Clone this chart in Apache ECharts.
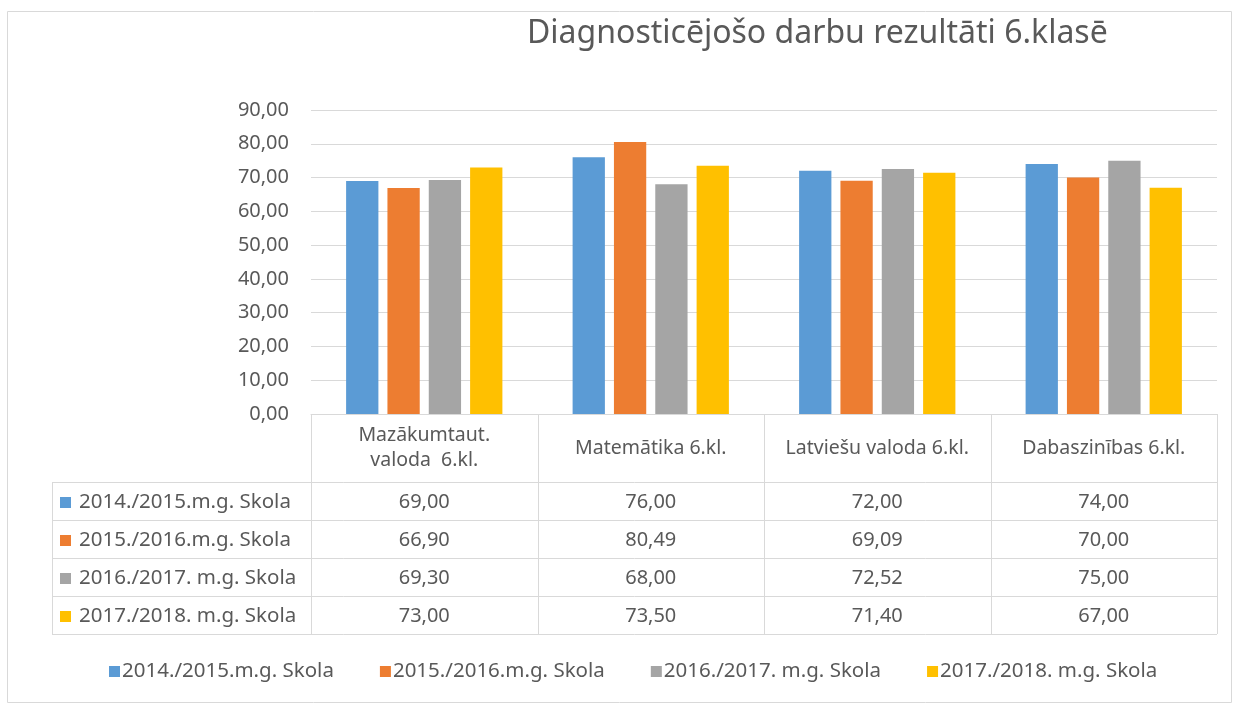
<!DOCTYPE html>
<html>
<head>
<meta charset="utf-8">
<script src="https://cdn.jsdelivr.net/npm/echarts@6/dist/echarts.min.js"></script>
<style>
  html, body { margin: 0; padding: 0; background: #fff; }
  #chart { width: 1234px; height: 704px; }
</style>
</head>
<body>
<div id="chart"></div>
<script>
var categories = ['Mazākumtaut.\nvaloda  6.kl.', 'Matemātika 6.kl.', 'Latviešu valoda 6.kl.', 'Dabaszinības 6.kl.'];
var seriesNames = ['2014./2015.m.g. Skola', '2015./2016.m.g. Skola', '2016./2017. m.g. Skola', '2017./2018. m.g. Skola'];
var s2014 = [69.00, 76.00, 72.00, 74.00];
var s2015 = [66.90, 80.49, 69.09, 70.00];
var s2016 = [69.30, 68.00, 72.52, 75.00];
var s2017 = [73.00, 73.50, 71.40, 67.00];
var yTicks = [0, 10, 20, 30, 40, 50, 60, 70, 80, 90];
var colors = ['#5b9bd5', '#ed7d31', '#a5a5a5', '#ffc000'];

var allValues = [s2014, s2015, s2016, s2017];
var textColor = '#595959';
var lineColor = '#d9d9d9';
var font = 'Noto Sans';

// layout
var W = 1234, H = 704;
var gLeft = 311, gRight = 1217, gTop = 110, gBottom = 414;
var tableLeft = 52;
var headerBottom = 482;
var rowH = 38;

function fmt(v) { return v.toFixed(2).replace('.', ','); }

var chart = echarts.init(document.getElementById('chart'));

var graphics = [];
// outer frame
graphics.push({
  type: 'rect', shape: { x: 7.5, y: 11.5, width: 1224, height: 691 },
  style: { fill: null, stroke: lineColor, lineWidth: 1 }, silent: true
});
// title
graphics.push({
  type: 'text', left: 527, top: 18,
  style: { text: 'Diagnosticējošo darbu rezultāti 6.klasē', fill: textColor, font: '32px "' + font + '"' }
});

var colW = (gRight - gLeft) / categories.length;
var tableBottom = headerBottom + rowH * seriesNames.length;
// verticals in category columns
for (var i = 0; i <= categories.length; i++) {
  var x = Math.round(gLeft + i * colW) + 0.5;
  graphics.push({
    type: 'line', shape: { x1: x, y1: gBottom, x2: x, y2: tableBottom },
    style: { stroke: lineColor, lineWidth: 1 }, silent: true
  });
}
graphics.push({
  type: 'line', shape: { x1: tableLeft + 0.5, y1: headerBottom, x2: tableLeft + 0.5, y2: tableBottom },
  style: { stroke: lineColor, lineWidth: 1 }, silent: true
});
// horizontals
for (var r = 0; r <= seriesNames.length; r++) {
  var y = headerBottom + r * rowH + 0.5;
  graphics.push({
    type: 'line', shape: { x1: tableLeft, y1: y, x2: gRight, y2: y },
    style: { stroke: lineColor, lineWidth: 1 }, silent: true
  });
}
// row labels and values
for (var r = 0; r < seriesNames.length; r++) {
  var cy = headerBottom + r * rowH + rowH / 2 + 1;
  graphics.push({
    type: 'rect', shape: { x: 60, y: cy - 5, width: 11, height: 11 },
    style: { fill: colors[r] }, silent: true
  });
  graphics.push({
    type: 'text', x: 79, y: cy,
    style: { text: seriesNames[r], fill: textColor, font: '20.5px "' + font + '"', verticalAlign: 'middle', align: 'left' }
  });
  for (var c = 0; c < categories.length; c++) {
    graphics.push({
      type: 'text', x: gLeft + c * colW + colW / 2, y: cy,
      style: { text: fmt(allValues[r][c]), fill: textColor, font: '20px "' + font + '"', verticalAlign: 'middle', align: 'center' }
    });
  }
}

var series = seriesNames.map(function (name, i) {
  return {
    name: name,
    type: 'bar',
    data: allValues[i],
    itemStyle: { color: colors[i] },
    barGap: '28%',
    barCategoryGap: '31%'
  };
});

var option = {
  animation: false,
  textStyle: { fontFamily: font },
  grid: { left: gLeft, right: W - gRight, top: gTop, bottom: H - gBottom },
  xAxis: {
    type: 'category',
    data: categories,
    axisLine: { lineStyle: { color: lineColor, width: 1 } },
    axisTick: { show: false },
    axisLabel: {
      color: textColor, fontSize: 19.5, lineHeight: 25,
      verticalAlign: 'middle', margin: 34, interval: 0
    }
  },
  yAxis: {
    type: 'value',
    min: yTicks[0],
    max: yTicks[yTicks.length - 1],
    interval: yTicks[1] - yTicks[0],
    axisLine: { show: false },
    axisTick: { show: false },
    axisLabel: { color: textColor, fontSize: 20, margin: 22, formatter: function (v) { return fmt(v); } },
    splitLine: { lineStyle: { color: lineColor, width: 1 } }
  },
  legend: {
    data: seriesNames,
    left: 104,
    top: 656,
    icon: 'rect',
    itemWidth: 11,
    itemHeight: 11,
    itemGap: 46,
    textStyle: { color: textColor, fontSize: 20.5, padding: [0, 0, 0, -3] }
  },
  graphic: graphics,
  series: series
};

chart.setOption(option);
</script>
</body>
</html>
